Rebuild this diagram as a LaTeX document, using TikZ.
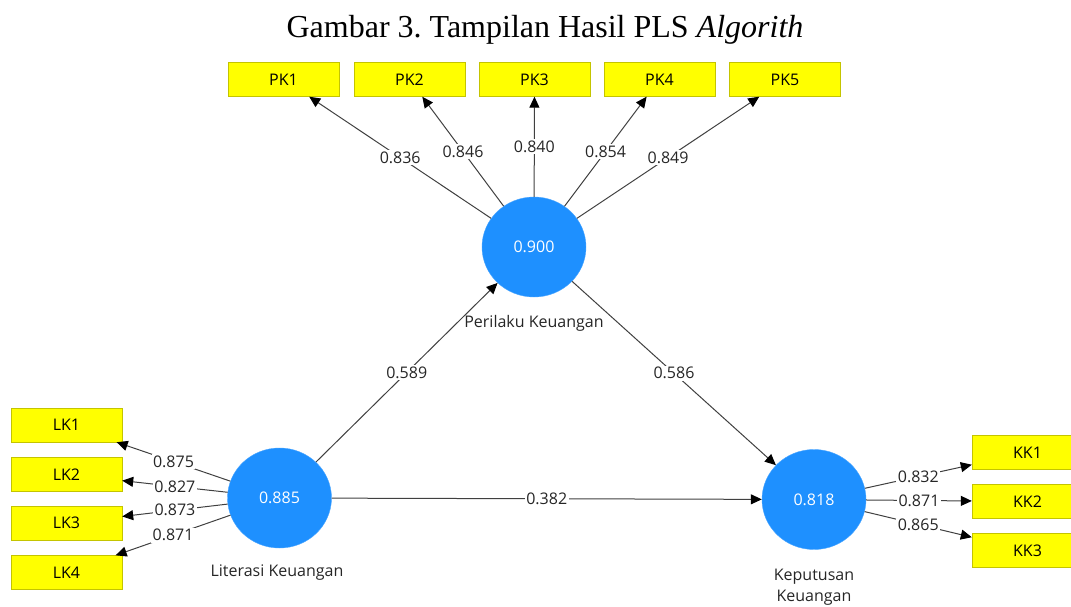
\documentclass[tikz,border=0pt]{standalone}
\usepackage{fontspec}
\setmainfont{Liberation Serif}
\newfontfamily\plsfont{Open Sans}
\usepackage{xcolor}
\usepackage{tikz}
\usetikzlibrary{arrows.meta,positioning,shapes.geometric}

\definecolor{lvblue}{RGB}{30,144,255}
\definecolor{mvyellow}{RGB}{255,255,0}
\definecolor{mvborder}{RGB}{196,196,0}
\definecolor{pathgray}{RGB}{64,64,64}

\begin{document}
\begin{tikzpicture}[x=1pt,y=-1pt,
  latent/.style={ellipse, fill=lvblue, draw=lvblue!80!white, minimum width=104pt, minimum height=100pt, inner sep=0pt, text=white, font=\plsfont\fontsize{16}{19}\selectfont},
  indicator/.style={rectangle, fill=mvyellow, draw=mvborder, minimum width=111pt, minimum height=34pt, inner sep=0pt, font=\plsfont\fontsize{16}{19}\selectfont},
  lvname/.style={align=center, text=black!85, font=\plsfont\fontsize{16}{21}\selectfont},
  loading/.style={draw=pathgray, line width=1pt, -{Triangle[length=11pt,width=10pt,color=black]}},
  coef/.style={midway, fill=white, inner sep=1.5pt, text=black!85, font=\plsfont\fontsize{16}{19}\selectfont}]
\useasboundingbox (0,0) rectangle (1071,607);
\clip (0,0) rectangle (1071,607);

%Caption
\node (caption) at (545,30) {\fontsize{32}{36}\selectfont Gambar 3.\ Tampilan Hasil PLS \textit{Algorith}};

%Latent variables
\node[latent] (pk) at (534,247) {0.900};
\node[latent] (lk) at (279.5,498) {0.885};
\node[latent] (kk) at (814,499.5) {0.818};
\node[lvname] (pkname) at (534,323) {Perilaku Keuangan};
\node[lvname] (lkname) at (277,573) {Literasi Keuangan};
\node[lvname] (kkname) at (814,587.5) {Keputusan\\Keuangan};

%Indicators
\node[indicator] (pk1) at (283.5,79.5) {PK1};
\node[indicator] (pk2) at (409.5,79.5) {PK2};
\node[indicator] (pk3) at (534.5,79.5) {PK3};
\node[indicator] (pk4) at (659.5,79.5) {PK4};
\node[indicator] (pk5) at (785,79.5) {PK5};

\node[indicator] (lk1) at (66.5,425) {LK1};
\node[indicator] (lk2) at (66.5,474.5) {LK2};
\node[indicator] (lk3) at (66.5,523) {LK3};
\node[indicator] (lk4) at (66.5,572.5) {LK4};

\node[indicator] (kk1) at (1027.5,452.5) {KK1};
\node[indicator] (kk2) at (1027.5,501.5) {KK2};
\node[indicator] (kk3) at (1027.5,550.5) {KK3};

%Outer loadings
\draw[loading] (pk) -- (pk1) node[coef] {0.836};
\draw[loading] (pk) -- (pk2) node[coef] {0.846};
\draw[loading] (pk) -- (pk3) node[coef] {0.840};
\draw[loading] (pk) -- (pk4) node[coef] {0.854};
\draw[loading] (pk) -- (pk5) node[coef] {0.849};

\draw[loading] (lk) -- (lk1) node[coef] {0.875};
\draw[loading] (lk) -- (lk2) node[coef] {0.827};
\draw[loading] (lk) -- (lk3) node[coef] {0.873};
\draw[loading] (lk) -- (lk4) node[coef] {0.871};

\draw[loading] (kk) -- (kk1) node[coef] {0.832};
\draw[loading] (kk) -- (kk2) node[coef] {0.871};
\draw[loading] (kk) -- (kk3) node[coef] {0.865};

%Path coefficients
\draw[loading] (lk) -- (pk) node[coef] {0.589};
\draw[loading] (pk) -- (kk) node[coef] {0.586};
\draw[loading] (lk) -- (kk) node[coef] {0.382};

\end{tikzpicture}
\end{document}
